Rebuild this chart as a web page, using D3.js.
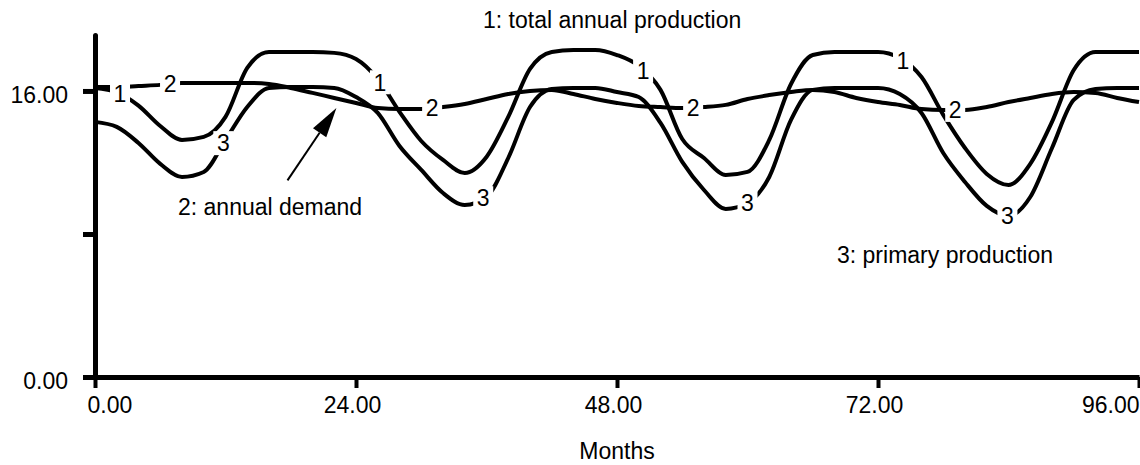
<!DOCTYPE html>
<html>
<head>
<meta charset="utf-8">
<script src="https://cdn.jsdelivr.net/npm/d3@7"></script>
<style>
  html, body { margin: 0; padding: 0; background: #fff; }
  svg { display: block; font-family: "Liberation Sans", Arial, Helvetica, sans-serif; }
</style>
</head>
<body>
<svg id="chart" width="1140" height="465"></svg>
<script>
// Simulation output, sampled every two months
const months = [0, 2, 4, 6, 8, 10, 12, 14, 16, 18, 20, 22, 24, 26, 28, 30, 32, 34, 36, 38, 40, 42, 44, 46, 48,
                50, 52, 54, 56, 58, 60, 62, 64, 66, 68, 70, 72, 74, 76, 78, 80, 82, 84, 86, 88, 90, 92, 94, 96];

const totalAnnualProduction = [16.17, 15.94, 15.18, 14.04, 13.26, 13.43, 14.55, 17.29, 18.18, 18.18, 18.18, 18.13, 17.79,
                               16.67, 14.83, 13.20, 12.14, 11.41, 12.31, 14.55, 17.23, 18.18, 18.29, 18.29, 18.01,
                               17.40, 16.06, 13.31, 12.25, 11.30, 11.47, 13.26, 16.39, 18.01, 18.18, 18.18, 18.18,
                               17.85, 16.78, 14.66, 12.81, 11.36, 10.74, 11.92, 14.27, 17.17, 18.18, 18.18, 18.18];

const annualDemand = [16.22, 16.22, 16.28, 16.34, 16.45, 16.45, 16.45, 16.45, 16.39, 16.17, 15.89, 15.61, 15.33,
                      15.05, 14.99, 14.99, 15.10, 15.27, 15.55, 15.83, 16.00, 16.06, 15.83, 15.55, 15.33,
                      15.16, 15.10, 15.05, 15.10, 15.22, 15.55, 15.77, 15.94, 16.06, 15.94, 15.61, 15.38,
                      15.22, 14.99, 14.94, 14.94, 15.10, 15.38, 15.61, 15.83, 15.94, 15.89, 15.61, 15.38];

const primaryProduction = [14.27, 13.99, 13.09, 11.92, 11.19, 11.47, 13.26, 15.10, 16.17, 16.22, 16.22, 16.17, 15.66,
                           14.77, 12.92, 11.58, 10.29, 9.62, 10.07, 12.25, 15.10, 16.11, 16.17, 16.17, 15.94,
                           15.66, 14.21, 12.03, 10.46, 9.40, 9.73, 11.19, 14.38, 16.06, 16.17, 16.17, 16.17,
                           15.83, 14.77, 12.53, 10.91, 9.57, 9.01, 10.07, 12.81, 15.50, 16.11, 16.17, 16.17];

// Months at which each series carries its numbered tag
const tagMonths1 = [2.3, 26.2, 50.4, 74.3];
const tagMonths2 = [6.9, 31.0, 55.0, 79.1];
const tagMonths3 = [11.8, 35.7, 60.0, 83.9];

const xTickValues = [0, 24, 48, 72, 96];
const xTickLabels = ["0.00", "24.00", "48.00", "72.00", "96.00"];
const yTickValues = [0, 8, 16];
const yTickLabels = ["0.00", "", "16.00"];

const seriesNames = ["1: total annual production", "2: annual demand", "3: primary production"];

// ---- layout ----
const svg = d3.select("#chart");
const x = d3.scaleLinear().domain([0, 96]).range([95, 1139]);
const y = d3.scaleLinear().domain([0, 19.13]).range([377, 35]);
const FONT = 23;

const series = [
  { tag: "1", values: totalAnnualProduction, tagMonths: tagMonths1 },
  { tag: "2", values: annualDemand, tagMonths: tagMonths2 },
  { tag: "3", values: primaryProduction, tagMonths: tagMonths3 }
];

const line = d3.line()
  .x((d, i) => x(months[i]))
  .y(d => y(d))
  .curve(d3.curveMonotoneX);

// series lines
svg.append("g").selectAll("path")
  .data(series)
  .join("path")
  .attr("d", s => line(s.values))
  .attr("fill", "none")
  .attr("stroke", "#000")
  .attr("stroke-width", 4)
  .attr("stroke-linejoin", "round");

// numbered tags sitting on each line
const tags = [];
series.forEach(s => {
  const at = d3.scaleLinear().domain(months).range(s.values);
  s.tagMonths.forEach(m => tags.push({ tag: s.tag, m: m, v: at(m) }));
});
const tagG = svg.append("g").selectAll("g").data(tags).join("g")
  .attr("transform", d => `translate(${x(d.m)},${y(d.v)})`);
tagG.append("rect")
  .attr("x", -10).attr("y", -12).attr("width", 20).attr("height", 24)
  .attr("fill", "#fff");
tagG.append("text")
  .attr("text-anchor", "middle")
  .attr("dy", "0.36em")
  .attr("font-size", FONT)
  .attr("fill", "#000")
  .text(d => d.tag);

// ---- axes ----
const yAxis = svg.append("g")
  .attr("transform", `translate(${x(0)},0)`)
  .call(d3.axisLeft(y).tickValues(yTickValues).tickSize(12).tickSizeOuter(0)
        .tickFormat((d, i) => yTickLabels[i]));
yAxis.select(".domain").attr("stroke-width", 5).attr("stroke-linecap", "round");
yAxis.selectAll(".tick line").attr("stroke-width", 5);
yAxis.selectAll(".tick text")
  .attr("font-size", FONT).attr("font-family", null)
  .attr("x", -27).attr("dy", "0.48em").attr("fill", "#000");

const xAxis = svg.append("g")
  .attr("transform", `translate(0,${y(0)})`)
  .call(d3.axisBottom(x).tickValues(xTickValues).tickSize(11).tickSizeOuter(0)
        .tickFormat((d, i) => xTickLabels[i]));
xAxis.select(".domain").attr("stroke-width", 5);
xAxis.selectAll(".tick line").attr("stroke-width", 4);
xAxis.selectAll(".tick text")
  .attr("font-size", FONT).attr("font-family", null).attr("fill", "#000")
  .attr("y", 36).attr("dy", 0)
  .attr("text-anchor", (d, i) => i === 0 ? "start" : (i === xTickValues.length - 1 ? "end" : "middle"))
  .attr("dx", (d, i) => i === 0 ? -8 : (i === xTickValues.length - 1 ? 0 : -4));
svg.selectAll(".domain, .tick line").attr("stroke", "#000");

// axis title
svg.append("text")
  .attr("x", x(48)).attr("y", 459)
  .attr("text-anchor", "middle").attr("font-size", FONT)
  .text("Months");

// series names
svg.append("text").attr("x", 483).attr("y", 28).attr("font-size", FONT).text(seriesNames[0]);
svg.append("text").attr("x", 178).attr("y", 215).attr("font-size", FONT).text(seriesNames[1]);
svg.append("text").attr("x", 837).attr("y", 263).attr("font-size", FONT).text(seriesNames[2]);

// pointer from the demand name to its line
const tail = [x(17.7), y(11.0)];
const tip = [x(22.2), y(15.05)];
const dx = tip[0] - tail[0], dy = tip[1] - tail[1];
const len = Math.hypot(dx, dy), ux = dx / len, uy = dy / len;
const headLen = 30, headHalf = 8;
const base = [tip[0] - ux * headLen, tip[1] - uy * headLen];
svg.append("line")
  .attr("x1", tail[0]).attr("y1", tail[1])
  .attr("x2", base[0]).attr("y2", base[1])
  .attr("stroke", "#000").attr("stroke-width", 2);
svg.append("path")
  .attr("d", `M${tip[0]},${tip[1]} L${base[0] - uy * headHalf},${base[1] + ux * headHalf} L${base[0] + uy * headHalf},${base[1] - ux * headHalf} Z`)
  .attr("fill", "#000");
</script>
</body>
</html>
